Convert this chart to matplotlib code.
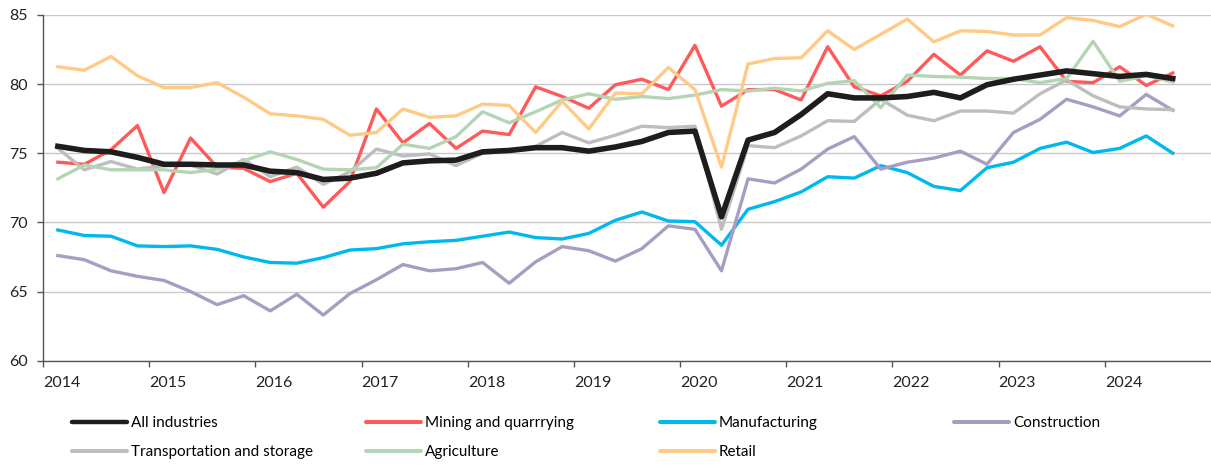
import matplotlib
matplotlib.use("Agg")
import matplotlib.pyplot as plt
import numpy as np

plt.rcParams['font.family'] = ['Lato', 'DejaVu Sans']

# quarterly series, 2014Q1 .. 2024Q3
start_year = 2014
n_quarters = 43

all_industries = [75.5, 75.2, 75.1, 74.7, 74.2, 74.2, 74.15, 74.15, 73.7, 73.6,
                  73.1, 73.2, 73.55, 74.3, 74.45, 74.5, 75.1, 75.2, 75.4, 75.4,
                  75.15, 75.45, 75.85, 76.5, 76.6, 70.4, 75.95, 76.5, 77.8, 79.3,
                  79.0, 79.0, 79.1, 79.4, 79.0, 79.95, 80.35, 80.65, 80.95, 80.75,
                  80.55, 80.7, 80.4]
mining = [74.35, 74.2, 75.25, 77.0, 72.15, 76.1, 74.0, 73.9, 72.95, 73.55,
          71.1, 72.95, 78.2, 75.75, 77.15, 75.35, 76.6, 76.35, 79.8, 79.1,
          78.25, 79.95, 80.35, 79.6, 82.8, 78.4, 79.6, 79.6, 78.85, 82.7,
          79.8, 79.15, 80.2, 82.15, 80.65, 82.4, 81.65, 82.7, 80.2, 80.1,
          81.25, 79.9, 80.8]
manufacturing = [69.45, 69.05, 69.0, 68.3, 68.25, 68.3, 68.05, 67.5, 67.1, 67.05,
                 67.45, 68.0, 68.1, 68.45, 68.6, 68.7, 69.0, 69.3, 68.9, 68.8,
                 69.2, 70.15, 70.75, 70.1, 70.05, 68.35, 70.95, 71.5, 72.2, 73.3,
                 73.2, 74.1, 73.6, 72.6, 72.3, 73.95, 74.35, 75.35, 75.8, 75.05,
                 75.35, 76.25, 75.0]
construction = [67.6, 67.3, 66.5, 66.1, 65.8, 65.0, 64.05, 64.7, 63.6, 64.8,
                63.3, 64.85, 65.85, 66.95, 66.5, 66.65, 67.1, 65.6, 67.15, 68.25,
                67.95, 67.2, 68.1, 69.75, 69.5, 66.5, 73.15, 72.85, 73.85, 75.3,
                76.2, 73.85, 74.35, 74.65, 75.15, 74.2, 76.5, 77.45, 78.9, 78.35,
                77.7, 79.25, 78.1]
transport = [75.35, 73.8, 74.4, 73.85, 74.1, 74.15, 73.5, 74.55, 73.3, 74.0,
             72.75, 73.65, 75.3, 74.8, 74.95, 74.1, 75.0, 75.15, 75.5, 76.5,
             75.75, 76.3, 76.95, 76.85, 76.95, 69.5, 75.55, 75.4, 76.25, 77.35,
             77.3, 78.9, 77.75, 77.35, 78.05, 78.05, 77.9, 79.3, 80.3, 79.15,
             78.35, 78.2, 78.15]
agriculture = [73.15, 74.15, 73.8, 73.8, 73.8, 73.6, 73.85, 74.45, 75.1, 74.55,
               73.85, 73.8, 73.95, 75.65, 75.35, 76.2, 78.0, 77.2, 78.0, 78.85,
               79.3, 78.9, 79.1, 78.95, 79.2, 79.6, 79.5, 79.7, 79.5, 80.05,
               80.25, 78.3, 80.65, 80.55, 80.5, 80.4, 80.4, 80.1, 80.4, 83.1,
               80.2, 80.6, 80.15]
retail = [81.25, 81.0, 82.0, 80.6, 79.75, 79.75, 80.1, 79.05, 77.85, 77.7,
          77.45, 76.3, 76.5, 78.2, 77.6, 77.7, 78.55, 78.45, 76.5, 78.75,
          76.75, 79.35, 79.3, 81.2, 79.6, 74.0, 81.45, 81.85, 81.9, 83.85,
          82.5, 83.6, 84.7, 83.05, 83.85, 83.8, 83.55, 83.55, 84.8, 84.6,
          84.15, 85.05, 84.2]

series = [
    ("All industries", all_industries, "#1e1c1c", 4.0),
    ("Mining and quarrrying", mining, "#ff5a5a", 2.4),
    ("Manufacturing", manufacturing, "#00b9ec", 2.4),
    ("Construction", construction, "#a99cc2", 2.4),
    ("Transportation and storage", transport, "#bdbdbd", 2.4),
    ("Agriculture", agriculture, "#b5d4b4", 2.4),
    ("Retail", retail, "#ffca85", 2.4),
]

years = list(range(2014, 2025))

# x position of each quarter (points sit a bit after the quarter start)
x = start_year + np.arange(n_quarters) * 0.25 + 0.14

fig = plt.figure(figsize=(12.11, 4.66), dpi=100)
ax = fig.add_axes([0.0355, 0.226, 0.9645, 0.742])

handles = {}
for name, vals, col, lw in series:
    ln, = ax.plot(x, vals, color=col, lw=lw, zorder=2)
    handles[name] = ln
# keep black on top of the others
handles["All industries"].set_zorder(4)

ax.set_xlim(2014, 2025)
ax.set_ylim(60, 85)
ax.set_xticks(years)
ax.set_xticklabels([str(y) for y in years], ha='left')
ax.set_yticks(np.arange(60, 86, 5))
ax.yaxis.grid(True, color='#c8c8c8', lw=1)
ax.set_axisbelow(True)

for s in ['top', 'right']:
    ax.spines[s].set_visible(False)
for s in ['left', 'bottom']:
    ax.spines[s].set_color('#555555')
    ax.spines[s].set_linewidth(1)
ax.tick_params(axis='both', colors='#555555', labelcolor='#222222', labelsize=11.5, length=4, width=1)
ax.tick_params(axis='x', pad=7)
ax.tick_params(axis='y', pad=7)

# legend: 4 evenly spaced columns, 2 rows
cols = [["All industries", "Transportation and storage"],
        ["Mining and quarrrying", "Agriculture"],
        ["Manufacturing", "Retail"],
        ["Construction"]]
for k, names in enumerate(cols):
    leg = fig.legend([handles[n] for n in names], names,
                     loc='upper left', bbox_to_anchor=(0.0595 + k * 0.2428, 0.107),
                     frameon=False, fontsize=11, handlelength=3.6, handletextpad=0.25,
                     labelspacing=1.0, borderaxespad=0, borderpad=0)
    for line in leg.get_lines():
        line.set_linewidth(3.2 if line.get_color() == "#1e1c1c" else 2.9)
        line.set_solid_capstyle('round')

fig.savefig("out.png", dpi=100)
